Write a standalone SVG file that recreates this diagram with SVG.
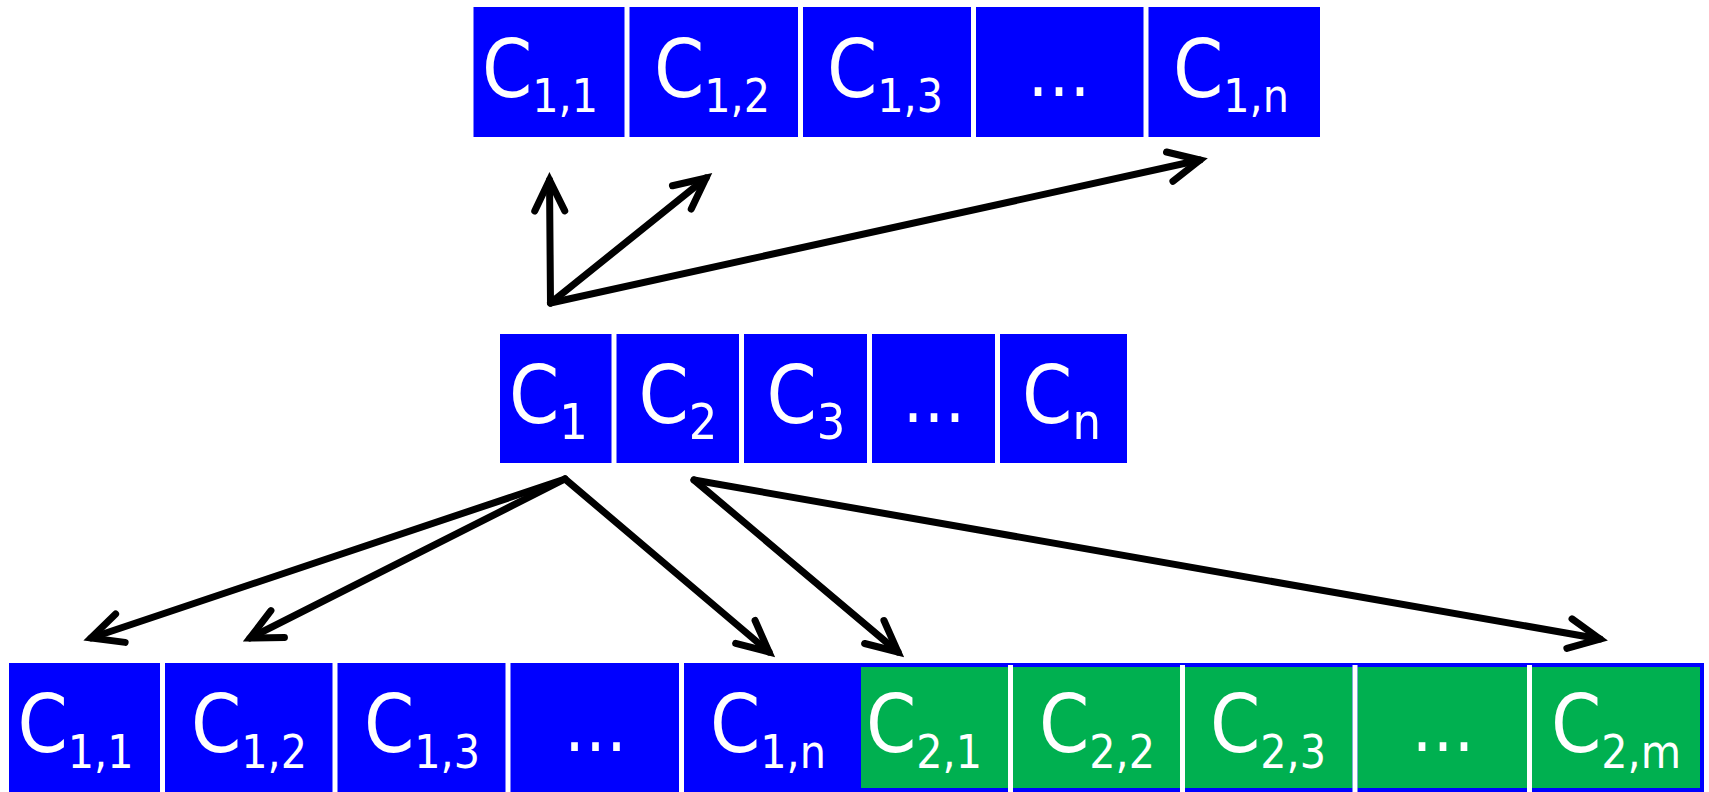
<svg xmlns="http://www.w3.org/2000/svg" width="1709" height="792" viewBox="0 0 1709 792">
<style>
.b{fill:#0000FF}
.g{fill:#00B050}
.t{font-family:"DejaVu Sans Condensed","DejaVu Sans","Liberation Sans",sans-serif;font-stretch:condensed;font-size:80px;fill:#FFFFFF;text-anchor:middle}
.s{font-size:46px}
.s2{font-size:50px}
.d{font-size:70px}
.c{fill:none;stroke:#000;stroke-width:7;stroke-linecap:round}
.w{fill:#FFFFFF}
</style>
<defs>
<marker id="ah" markerUnits="userSpaceOnUse" orient="auto" refX="0" refY="0" markerWidth="40" markerHeight="40" overflow="visible">
<path d="M -31 -15 L 0 0 L -31 15" fill="none" stroke="#000" stroke-width="7" stroke-linecap="round" stroke-linejoin="miter"/>
</marker>
</defs>
<rect width="1709" height="792" fill="#FFFFFF"/>

<g id="top-row">
<g id="t1"><rect class="b" x="473.5" y="7" width="151" height="130"/><text class="t" x="540" y="97">C<tspan class="s" dy="15">1,1</tspan></text></g>
<g id="t2"><rect class="b" x="629.5" y="7" width="168.5" height="130"/><text class="t" x="712" y="97">C<tspan class="s" dy="15">1,2</tspan></text></g>
<g id="t3"><rect class="b" x="803" y="7" width="168" height="130"/><text class="t" x="885" y="97">C<tspan class="s" dy="15">1,3</tspan></text></g>
<g id="t4"><rect class="b" x="976" y="7" width="167.5" height="130"/><text class="t d" x="1059" y="96">…</text></g>
<g id="t5"><rect class="b" x="1148.5" y="7" width="171.5" height="130"/><text class="t" x="1231" y="97">C<tspan class="s" dy="15">1,n</tspan></text></g>
</g>

<g id="mid-row">
<g id="m1"><rect class="b" x="500" y="334" width="111.5" height="129"/><text class="t" x="548.5" y="423">C<tspan class="s2" dy="16">1</tspan></text></g>
<g id="m2"><rect class="b" x="616.5" y="334" width="122.5" height="129"/><text class="t" x="678" y="423">C<tspan class="s2" dy="16">2</tspan></text></g>
<g id="m3"><rect class="b" x="744" y="334" width="123" height="129"/><text class="t" x="806" y="423">C<tspan class="s2" dy="16">3</tspan></text></g>
<g id="m4"><rect class="b" x="872" y="334" width="123" height="129"/><text class="t d" x="934" y="422">…</text></g>
<g id="m5"><rect class="b" x="1000" y="334" width="127" height="129"/><text class="t" x="1061.5" y="423">C<tspan class="s2" dy="16">n</tspan></text></g>
</g>

<g id="bottom-row">
<rect class="b" x="857" y="663" width="847" height="129"/>
<g id="b1"><rect class="b" x="9" y="663" width="151" height="129"/><text class="t" x="75.5" y="752">C<tspan class="s" dy="16">1,1</tspan></text></g>
<g id="b2"><rect class="b" x="165" y="663" width="167.5" height="129"/><text class="t" x="249" y="752">C<tspan class="s" dy="16">1,2</tspan></text></g>
<g id="b3"><rect class="b" x="337.5" y="663" width="168" height="129"/><text class="t" x="422" y="752">C<tspan class="s" dy="16">1,3</tspan></text></g>
<g id="b4"><rect class="b" x="510.5" y="663" width="168.5" height="129"/><text class="t d" x="595.5" y="751">…</text></g>
<g id="b5"><rect class="b" x="684" y="663" width="173" height="129"/><text class="t" x="768" y="752">C<tspan class="s" dy="16">1,n</tspan></text></g>
<g id="g1"><rect class="g" x="861" y="667" width="147" height="121"/><text class="t" x="924" y="752">C<tspan class="s" dy="16">2,1</tspan></text></g>
<g id="g2"><rect class="g" x="1013" y="667" width="167" height="121"/><text class="t" x="1097" y="752">C<tspan class="s" dy="16">2,2</tspan></text></g>
<g id="g3"><rect class="g" x="1185" y="667" width="167.5" height="121"/><text class="t" x="1268" y="752">C<tspan class="s" dy="16">2,3</tspan></text></g>
<g id="g4"><rect class="g" x="1357.5" y="667" width="169.5" height="121"/><text class="t d" x="1443" y="751">…</text></g>
<g id="g5"><rect class="g" x="1532" y="667" width="168" height="121"/><text class="t" x="1616" y="752">C<tspan class="s" dy="16">2,m</tspan></text></g>
<rect class="w" x="1008" y="665" width="5" height="127"/>
<rect class="w" x="1180" y="665" width="5" height="127"/>
<rect class="w" x="1352.5" y="665" width="5" height="127"/>
<rect class="w" x="1527" y="665" width="5" height="127"/>
</g>

<g id="connectors">
<path class="c" d="M 550.5 303 L 549.5 180" marker-end="url(#ah)"/>
<path class="c" d="M 550.5 303 L 706 178" marker-end="url(#ah)"/>
<path class="c" d="M 550.5 303 L 1200 160" marker-end="url(#ah)"/>
<path class="c" d="M 565 479 L 91 638" marker-end="url(#ah)"/>
<path class="c" d="M 565 479 L 250 638" marker-end="url(#ah)"/>
<path class="c" d="M 565 479 L 769 652" marker-end="url(#ah)"/>
<path class="c" d="M 694 480 L 898 652" marker-end="url(#ah)"/>
<path class="c" d="M 694 480 L 1600 639" marker-end="url(#ah)"/>
</g>
</svg>
